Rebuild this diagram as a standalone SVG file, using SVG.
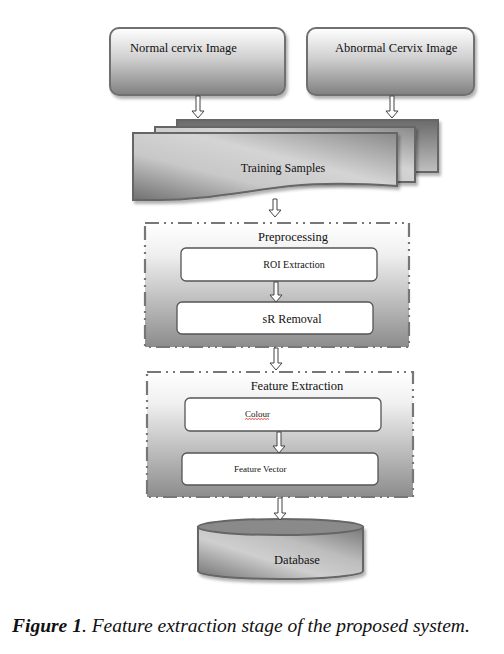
<svg xmlns="http://www.w3.org/2000/svg" width="504" height="654" viewBox="0 0 504 654" font-family="'Liberation Serif', 'DejaVu Serif', serif">
<defs>
<linearGradient id="gBox" x1="0" y1="0" x2="0" y2="1">
<stop offset="0" stop-color="#ffffff"/><stop offset="0.45" stop-color="#d0d0d0"/><stop offset="1" stop-color="#808080"/>
</linearGradient>
<linearGradient id="gPage" x1="0" y1="1" x2="1" y2="0">
<stop offset="0" stop-color="#707070"/><stop offset="0.35" stop-color="#c8c8c8"/><stop offset="0.6" stop-color="#d4d4d4"/><stop offset="1" stop-color="#8a8a8a"/>
</linearGradient>
<linearGradient id="gBack" x1="0" y1="0" x2="0" y2="1">
<stop offset="0" stop-color="#6a6a6a"/><stop offset="1" stop-color="#c0c0c0"/>
</linearGradient>
<linearGradient id="gGroup" x1="0" y1="0" x2="0" y2="1">
<stop offset="0" stop-color="#ffffff"/><stop offset="0.25" stop-color="#f0f0f0"/><stop offset="1" stop-color="#8c8c8c"/>
</linearGradient>
<linearGradient id="gCyl" x1="0" y1="1" x2="1" y2="0">
<stop offset="0" stop-color="#707070"/><stop offset="0.4" stop-color="#cfcfcf"/><stop offset="0.65" stop-color="#bdbdbd"/><stop offset="1" stop-color="#777777"/>
</linearGradient>
<filter id="sh" x="-10%" y="-10%" width="125%" height="130%">
<feDropShadow dx="2" dy="3" stdDeviation="1.5" flood-color="#000" flood-opacity="0.3"/>
</filter>
</defs>
<style>
.box{fill:url(#gBox);stroke:#707070;stroke-width:2;filter:url(#sh)}
.inner{fill:#ffffff;stroke:#555;stroke-width:1.3}
.grp{fill:url(#gGroup);stroke:#777;stroke-width:2.2;stroke-dasharray:14 5 2 5 2 5}
.page{stroke:#666;stroke-width:2}
.arr{fill:#ffffff;stroke:#444;stroke-width:1}
.t{font-size:12.5px;fill:#111}
.m{font-size:12px;fill:#111}
.s{font-size:9px;fill:#111}
.h{font-size:12.5px;fill:#111}
</style>

<g id="normal">
<rect class="box" x="110" y="28" width="175" height="67" rx="9"/>
<text class="t" x="130" y="52">Normal cervix Image</text>
</g>
<g id="abnormal">
<rect class="box" x="307" y="28" width="167" height="67" rx="9"/>
<text class="t" x="335" y="52">Abnormal Cervix Image</text>
</g>

<g id="training">
<rect class="page" x="177" y="120" width="261" height="52" fill="url(#gBack)" filter="url(#sh)"/>
<rect class="page" x="155" y="127" width="260" height="55" fill="url(#gPage)" filter="url(#sh)"/>
<path class="page" d="M133 133 H397 V186 C370 184 330 182 290 186 C240 192 200 200 160 200 L133 200 Z" fill="url(#gPage)" filter="url(#sh)"/>
<text class="m" x="283" y="172" text-anchor="middle">Training Samples</text>
</g>

<g id="preprocessing">
<rect class="grp" x="145" y="223" width="264" height="124"/>
<text class="h" x="293" y="241" text-anchor="middle">Preprocessing</text>
</g>
<g id="roi">
<rect class="inner" x="181" y="248" width="196" height="33" rx="5"/>
<text x="294" y="268" text-anchor="middle" font-size="10" fill="#111">ROI  Extraction</text>
</g>
<g id="srremoval">
<rect class="inner" x="177" y="302" width="196" height="32" rx="5"/>
<text class="m" x="292" y="323" text-anchor="middle">sR Removal</text>
</g>

<g id="featureextraction">
<rect class="grp" x="147" y="372" width="266" height="125"/>
<text class="h" x="297" y="390" text-anchor="middle">Feature Extraction</text>
</g>
<g id="colour">
<rect class="inner" x="185" y="398" width="196" height="33" rx="5"/>
<text class="s" x="245" y="417">Colour</text>
<path d="M245 419.5 l1.5 -1 1.5 1 1.5 -1 1.5 1 1.5 -1 1.5 1 1.5 -1 1.5 1 1.5 -1 1.5 1 1.5 -1 1.5 1 1.5 -1 1.5 1 1.5 -1 1.5 1" fill="none" stroke="#e02020" stroke-width="0.8"/>
</g>
<g id="featurevector">
<rect class="inner" x="182" y="453" width="196" height="32" rx="5"/>
<text class="s" x="234" y="472">Feature  Vector</text>
</g>

<g id="database">
<path d="M198 527 V571 A82.5 8 0 0 0 363 571 V527 Z" fill="url(#gCyl)" stroke="#666" stroke-width="2" filter="url(#sh)"/>
<ellipse cx="280.5" cy="527" rx="82.5" ry="8" fill="#8a8a8a" stroke="#666" stroke-width="2"/>
<text class="t" x="297" y="564" text-anchor="middle">Database</text>
</g>

<g id="connectors">
<path class="arr" d="M196 96 V111 H192 L198 118 L204 111 H200 V96 Z"/>
<path class="arr" d="M390 96 V111 H386 L392 118 L398 111 H394 V96 Z"/>
<path class="arr" d="M273 199 V210 H269 L275 217 L281 210 H277 V199 Z"/>
<path class="arr" d="M274 282 V295 H270 L276 302 L282 295 H278 V282 Z"/>
<path class="arr" d="M274 348 V363 H270 L276 370 L282 363 H278 V348 Z"/>
<path class="arr" d="M277 432 V446 H273 L279 453 L285 446 H281 V432 Z"/>
<path class="arr" d="M278 498 V513 H274 L280 520 L286 513 H282 V498 Z"/>
</g>

<text x="12" y="632" font-size="19.5" font-style="italic" fill="#111"><tspan font-weight="bold">Figure 1</tspan>. Feature extraction stage of the proposed system.</text>
</svg>
